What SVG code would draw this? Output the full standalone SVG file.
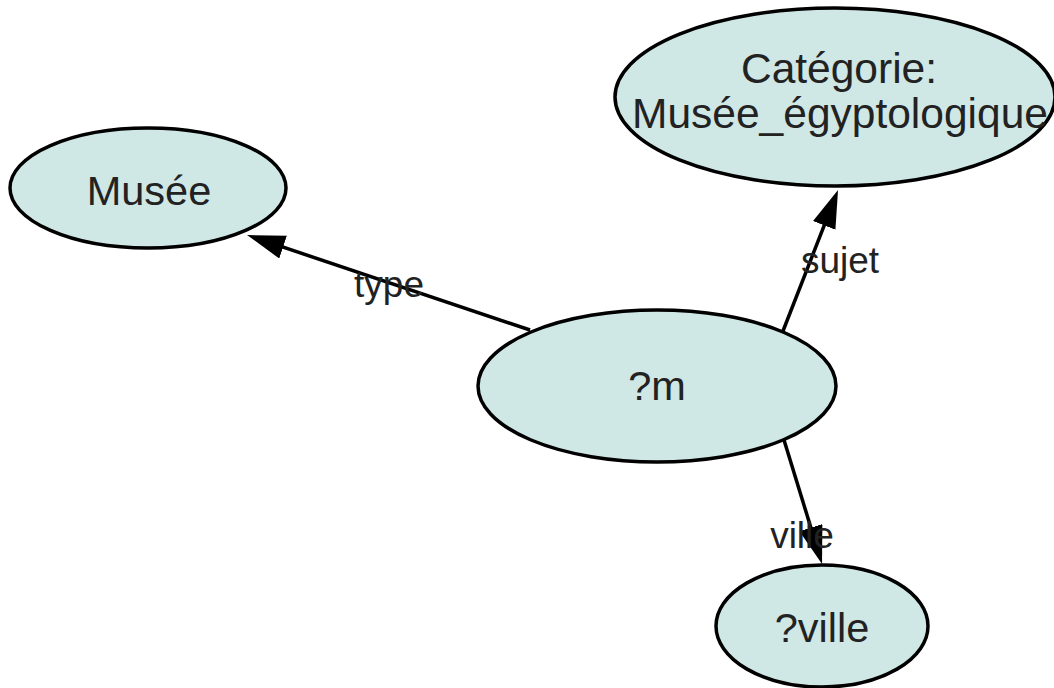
<svg xmlns="http://www.w3.org/2000/svg" width="1054" height="688" viewBox="0 0 1054 688">
<style>
.node ellipse{fill:#cfe7e5;stroke:#000;stroke-width:3.5}
.node text{font-family:"Liberation Sans",Arial,sans-serif;font-size:41.5px;fill:#222;text-anchor:middle}
.node text.big{font-size:42.5px}
.edge line{stroke:#000;stroke-width:3.5}
.lbl{font-family:"Liberation Sans",Arial,sans-serif;font-size:37px;fill:#222;text-anchor:middle}
</style>
<defs>
<marker id="arr" markerUnits="userSpaceOnUse" markerWidth="40" markerHeight="26" refX="28" refY="12" orient="auto" viewBox="0 0 40 26">
<path d="M0,0 L38,12 L0,24 z" fill="#000"/>
</marker>
</defs>
<rect width="1054" height="688" fill="#fff"/>
<g id="connectors" class="edge">
<line x1="530" y1="330" x2="256.5" y2="238.2" marker-end="url(#arr)"/>
<line x1="783" y1="331" x2="834.4" y2="199.3" marker-end="url(#arr)"/>
<line x1="784" y1="440" x2="819.1" y2="554.4" marker-end="url(#arr)"/>
<text class="lbl" x="389" y="297">type</text>
<text class="lbl" x="840" y="273">sujet</text>
<text class="lbl" x="802" y="548">ville</text>
</g>
<g id="node-categorie" class="node">
<ellipse cx="835" cy="97" rx="220" ry="89"/>
<text class="big" x="839" y="83">Catégorie:</text>
<text class="big" x="840" y="128">Musée_égyptologique</text>
</g>
<g id="node-musee" class="node">
<ellipse cx="148" cy="188" rx="138" ry="60"/>
<text x="149" y="205">Musée</text>
</g>
<g id="node-m" class="node">
<ellipse cx="657" cy="386" rx="179" ry="76"/>
<text x="657" y="400">?m</text>
</g>
<g id="node-ville" class="node">
<ellipse cx="822" cy="626" rx="106" ry="61"/>
<text x="822" y="642">?ville</text>
</g>
</svg>
